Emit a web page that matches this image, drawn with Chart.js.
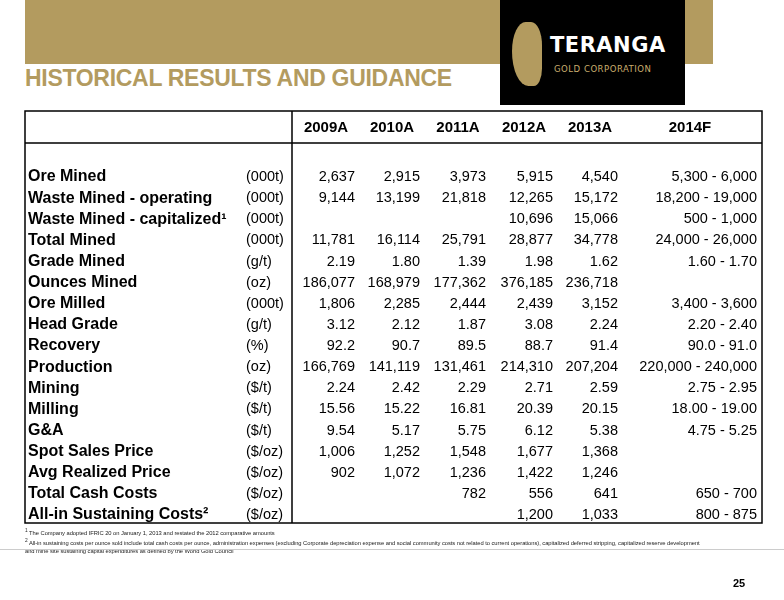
<!DOCTYPE html>
<html><head><meta charset="utf-8">
<script src="https://cdn.jsdelivr.net/npm/chart.js@4"></script>
<style>
body{margin:0;width:784px;height:600px;background:#fff;font-family:"Liberation Sans",Arial,sans-serif;position:relative;overflow:hidden}
.band{position:absolute;left:25px;top:0;width:688px;height:64px;background:#b39b5f}
.logo{position:absolute;left:500px;top:0;width:185px;height:105px;background:#000}
.logo .t{position:absolute;left:50px;top:33px;color:#fff;font:bold 21px "DejaVu Sans",sans-serif;letter-spacing:.5px}
.logo .g{position:absolute;left:54px;top:63px;color:#c9ad6e;font:9.5px "DejaVu Sans Condensed","DejaVu Sans",sans-serif;letter-spacing:.5px}
.logo .l{position:absolute;left:12px;top:22px;width:30px;height:64px;background:#b39b5f;border-radius:50% 40% 30% 60%}
h1{position:absolute;left:25px;top:65px;margin:0;color:#b39b5f;font:bold 23px "Liberation Sans",Arial,sans-serif;letter-spacing:-.3px}
.fn{position:absolute;left:25px;top:527px;font-size:5.8px;line-height:8px;color:#222;width:745px;letter-spacing:-.05px}
.rule{position:absolute;left:0;top:549px;width:784px;height:1px;background:#ccc}
.pg{position:absolute;left:733px;top:577px;font:bold 11px "Liberation Sans",Arial,sans-serif}
canvas{position:absolute;left:0;top:0}
</style></head><body>
<div class="band"></div>
<div class="logo"><div class="l"></div><div class="t">TERANGA</div><div class="g">GOLD CORPORATION</div></div>
<h1>HISTORICAL RESULTS AND GUIDANCE</h1>
<div style="position:absolute;left:0;top:0;width:784px;height:600px"><canvas id="c"></canvas></div>
<div class="fn"><sup>1</sup> The Company adopted IFRIC 20 on January 1, 2013 and restated the 2012 comparative amounts<br><sup>2</sup> All-in sustaining costs per ounce sold include total cash costs per ounce, administration expenses (excluding Corporate depreciation expense and social community costs not related to current operations), capitalized deferred stripping, capitalized reserve development<br>and mine site sustaining capital expenditures as defined by the World Gold Council</div>
<div class="rule"></div>
<div class="pg">25</div>
<script>
var years = ["2009A", "2010A", "2011A", "2012A", "2013A", "2014F"];
var rows = ["Ore Mined", "Waste Mined - operating", "Waste Mined - capitalized¹", "Total Mined", "Grade Mined", "Ounces Mined", "Ore Milled", "Head Grade", "Recovery", "Production", "Mining", "Milling", "G&A", "Spot Sales Price", "Avg Realized Price", "Total Cash Costs", "All-in Sustaining Costs²"];
var units = ["(000t)", "(000t)", "(000t)", "(000t)", "(g/t)", "(oz)", "(000t)", "(g/t)", "(%)", "(oz)", "($/t)", "($/t)", "($/t)", "($/oz)", "($/oz)", "($/oz)", "($/oz)"];
var v2009 = ["2,637", "9,144", "", "11,781", "2.19", "186,077", "1,806", "3.12", "92.2", "166,769", "2.24", "15.56", "9.54", "1,006", "902", "", ""];
var v2010 = ["2,915", "13,199", "", "16,114", "1.80", "168,979", "2,285", "2.12", "90.7", "141,119", "2.42", "15.22", "5.17", "1,252", "1,072", "", ""];
var v2011 = ["3,973", "21,818", "", "25,791", "1.39", "177,362", "2,444", "1.87", "89.5", "131,461", "2.29", "16.81", "5.75", "1,548", "1,236", "782", ""];
var v2012 = ["5,915", "12,265", "10,696", "28,877", "1.98", "376,185", "2,439", "3.08", "88.7", "214,310", "2.71", "20.39", "6.12", "1,677", "1,422", "556", "1,200"];
var v2013 = ["4,540", "15,172", "15,066", "34,778", "1.62", "236,718", "3,152", "2.24", "91.4", "207,204", "2.59", "20.15", "5.38", "1,368", "1,246", "641", "1,033"];
var v2014 = ["5,300 - 6,000", "18,200 - 19,000", "500 - 1,000", "24,000 - 26,000", "1.60 - 1.70", "", "3,400 - 3,600", "2.20 - 2.40", "90.0 - 91.0", "220,000 - 240,000", "2.75 - 2.95", "18.00 - 19.00", "4.75 - 5.25", "", "", "650 - 700", "800 - 875"];
var cols = [v2009, v2010, v2011, v2012, v2013, v2014];

// layout: column right edges and header centres (px)
var colRight = [355, 420, 486, 553, 618, 757];
var colHead = [326, 392, 458, 524, 590, 690];

var cells = [];
cols.forEach(function (c, ci) {
    c.forEach(function (v, ri) { cells.push({ x: ci, y: rows[ri], t: v }); });
});

var tablePlugin = {
    id: "table",
    afterDatasetsDraw: function (chart) {
        var ctx = chart.ctx, ys = chart.scales.y;
        ctx.save();
        ctx.strokeStyle = "#000";
        ctx.lineWidth = 1.5;
        ctx.strokeRect(25, 111, 737, 412);
        ctx.beginPath();
        ctx.moveTo(25, 143); ctx.lineTo(762, 143);
        ctx.moveTo(292, 111); ctx.lineTo(292, 523);
        ctx.stroke();
        ctx.fillStyle = "#000";
        ctx.textBaseline = "middle";
        ctx.textAlign = "center";
        ctx.font = "bold 15px 'Liberation Sans', Arial";
        years.forEach(function (y, i) { ctx.fillText(y, colHead[i], 128); });
        rows.forEach(function (r, i) {
            var py = ys.getPixelForValue(i);
            ctx.textAlign = "left";
            ctx.font = "bold 16px 'Liberation Sans', Arial";
            ctx.fillText(r, 28, py);
            ctx.font = "14.5px 'Liberation Sans', Arial";
            ctx.fillText(units[i], 246, py);
        });
        ctx.textAlign = "right";
        ctx.font = "14.5px 'Liberation Sans', Arial";
        chart.getDatasetMeta(0).data.forEach(function (el, i) {
            var d = cells[i];
            if (d.t) ctx.fillText(d.t, colRight[d.x], el.y);
        });
        ctx.restore();
    }
};

new Chart(document.getElementById("c"), {
    type: "scatter",
    data: { datasets: [{ data: cells, pointRadius: 0 }] },
    options: {
        responsive: true, maintainAspectRatio: false, animation: false,
        layout: { padding: { top: 177, bottom: 85, left: 300, right: 20 } },
        plugins: { legend: { display: false }, tooltip: { enabled: false } },
        scales: {
            x: { type: "linear", min: 0, max: 5, display: false },
            y: { type: "category", labels: rows, offset: false, display: false }
        }
    },
    plugins: [tablePlugin]
});
</script>
</body></html>
